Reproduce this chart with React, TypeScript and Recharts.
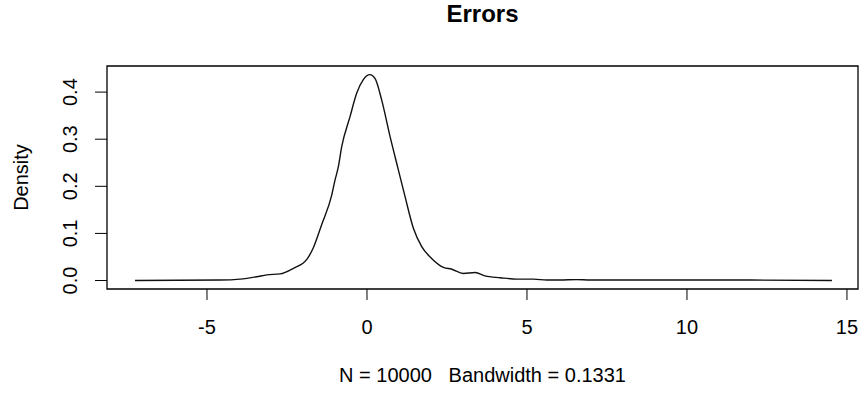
import React from "react";
import { LineChart, Line, XAxis, YAxis, ReferenceArea } from "recharts";

// values
const errX = [
  -7.25, -4.59, -3.97, -3.45, -3.13, -2.72, -2.3, -1.88, -1.68, -1.42, -1.1, -1.0, -0.9, -0.79, -0.53, -0.32,
  -0.12, 0.09, 0.25, 0.46, 0.72, 0.98, 1.19, 1.45, 1.71, 2.02, 2.39, 2.65, 3.01, 3.38, 3.69, 4.16, 4.68, 5.2,
  5.62, 6.03, 6.55, 6.97, 8.5, 10.0, 12.0, 14.53,
];
const density = [
  0.0, 0.001, 0.003, 0.008, 0.012, 0.014, 0.026, 0.045, 0.069, 0.118, 0.182, 0.213, 0.24, 0.284, 0.348, 0.398,
  0.426, 0.437, 0.429, 0.383, 0.306, 0.235, 0.178, 0.111, 0.072, 0.047, 0.028, 0.024, 0.015, 0.017, 0.01, 0.006,
  0.003, 0.003, 0.001, 0.001, 0.002, 0.001, 0.001, 0.001, 0.001, 0.0,
];
const xTicks = [-5, 0, 5, 10, 15];
const yTicks = [0, 0.1, 0.2, 0.3, 0.4];
const xDomain: [number, number] = [-8.125, 15.345];
const yDomain: [number, number] = [-0.018, 0.4554];

const title = "Errors";
const xTitle = "N = 10000   Bandwidth = 0.1331";
const yTitle = "Density";

const data = errX.map((x, i) => ({ x, y: density[i] }));

const FONT = "'Liberation Sans', Arial, Helvetica, sans-serif";

const YTick = ({ y, payload }: any) => (
  <text
    x={70}
    y={y}
    transform={`rotate(-90, 70, ${y})`}
    textAnchor="middle"
    dominantBaseline="central"
    fontSize={20}
    fontFamily={FONT}
    fill="#000"
  >
    {payload.value.toFixed(1)}
  </text>
);

export default function App() {
  return (
    <div style={{ position: "relative", width: 861, height: 394, background: "#fff" }}>
      <style>{"body{margin:0}"}</style>
      <div
        style={{
          position: "absolute",
          left: 107,
          width: 751,
          top: 0,
          textAlign: "center",
          fontFamily: FONT,
          fontWeight: "bold",
          fontSize: 24,
          lineHeight: "28px",
        }}
      >
        {title}
      </div>
      <LineChart width={861} height={394} data={data} margin={{ top: 66, right: 3, bottom: 65, left: 47 }}>
        <XAxis
          dataKey="x"
          type="number"
          domain={xDomain}
          allowDataOverflow
          ticks={xTicks}
          axisLine={false}
          tickSize={11}
          tickMargin={20}
          tickLine={{ stroke: "#000" }}
          tick={{ fill: "#000", fontSize: 20, fontFamily: FONT }}
          height={40}
          label={({ viewBox }: any) => (
            <text
              x={viewBox.x + viewBox.width / 2}
              y={375}
              textAnchor="middle"
              dominantBaseline="central"
              fontSize={20}
              fontFamily={FONT}
              style={{ whiteSpace: "pre" }}
            >
              {xTitle}
            </text>
          )}
        />
        <YAxis
          type="number"
          domain={yDomain}
          allowDataOverflow
          ticks={yTicks}
          axisLine={false}
          tickSize={12}
          tickLine={{ stroke: "#000" }}
          tick={<YTick />}
          width={60}
          label={({ viewBox }: any) => (
            <text
              x={21}
              y={viewBox.y + viewBox.height / 2}
              transform={`rotate(-90, 21, ${viewBox.y + viewBox.height / 2})`}
              textAnchor="middle"
              dominantBaseline="central"
              fontSize={20}
              fontFamily={FONT}
            >
              {yTitle}
            </text>
          )}
        />
        <ReferenceArea
          x1={xDomain[0]}
          x2={xDomain[1]}
          y1={yDomain[0]}
          y2={yDomain[1]}
          fill="none"
          stroke="#000"
          strokeWidth={1.3}
          ifOverflow="visible"
        />
        <Line
          type="monotone"
          dataKey="y"
          stroke="#111"
          strokeWidth={1.4}
          dot={false}
          isAnimationActive={false}
        />
      </LineChart>
    </div>
  );
}
